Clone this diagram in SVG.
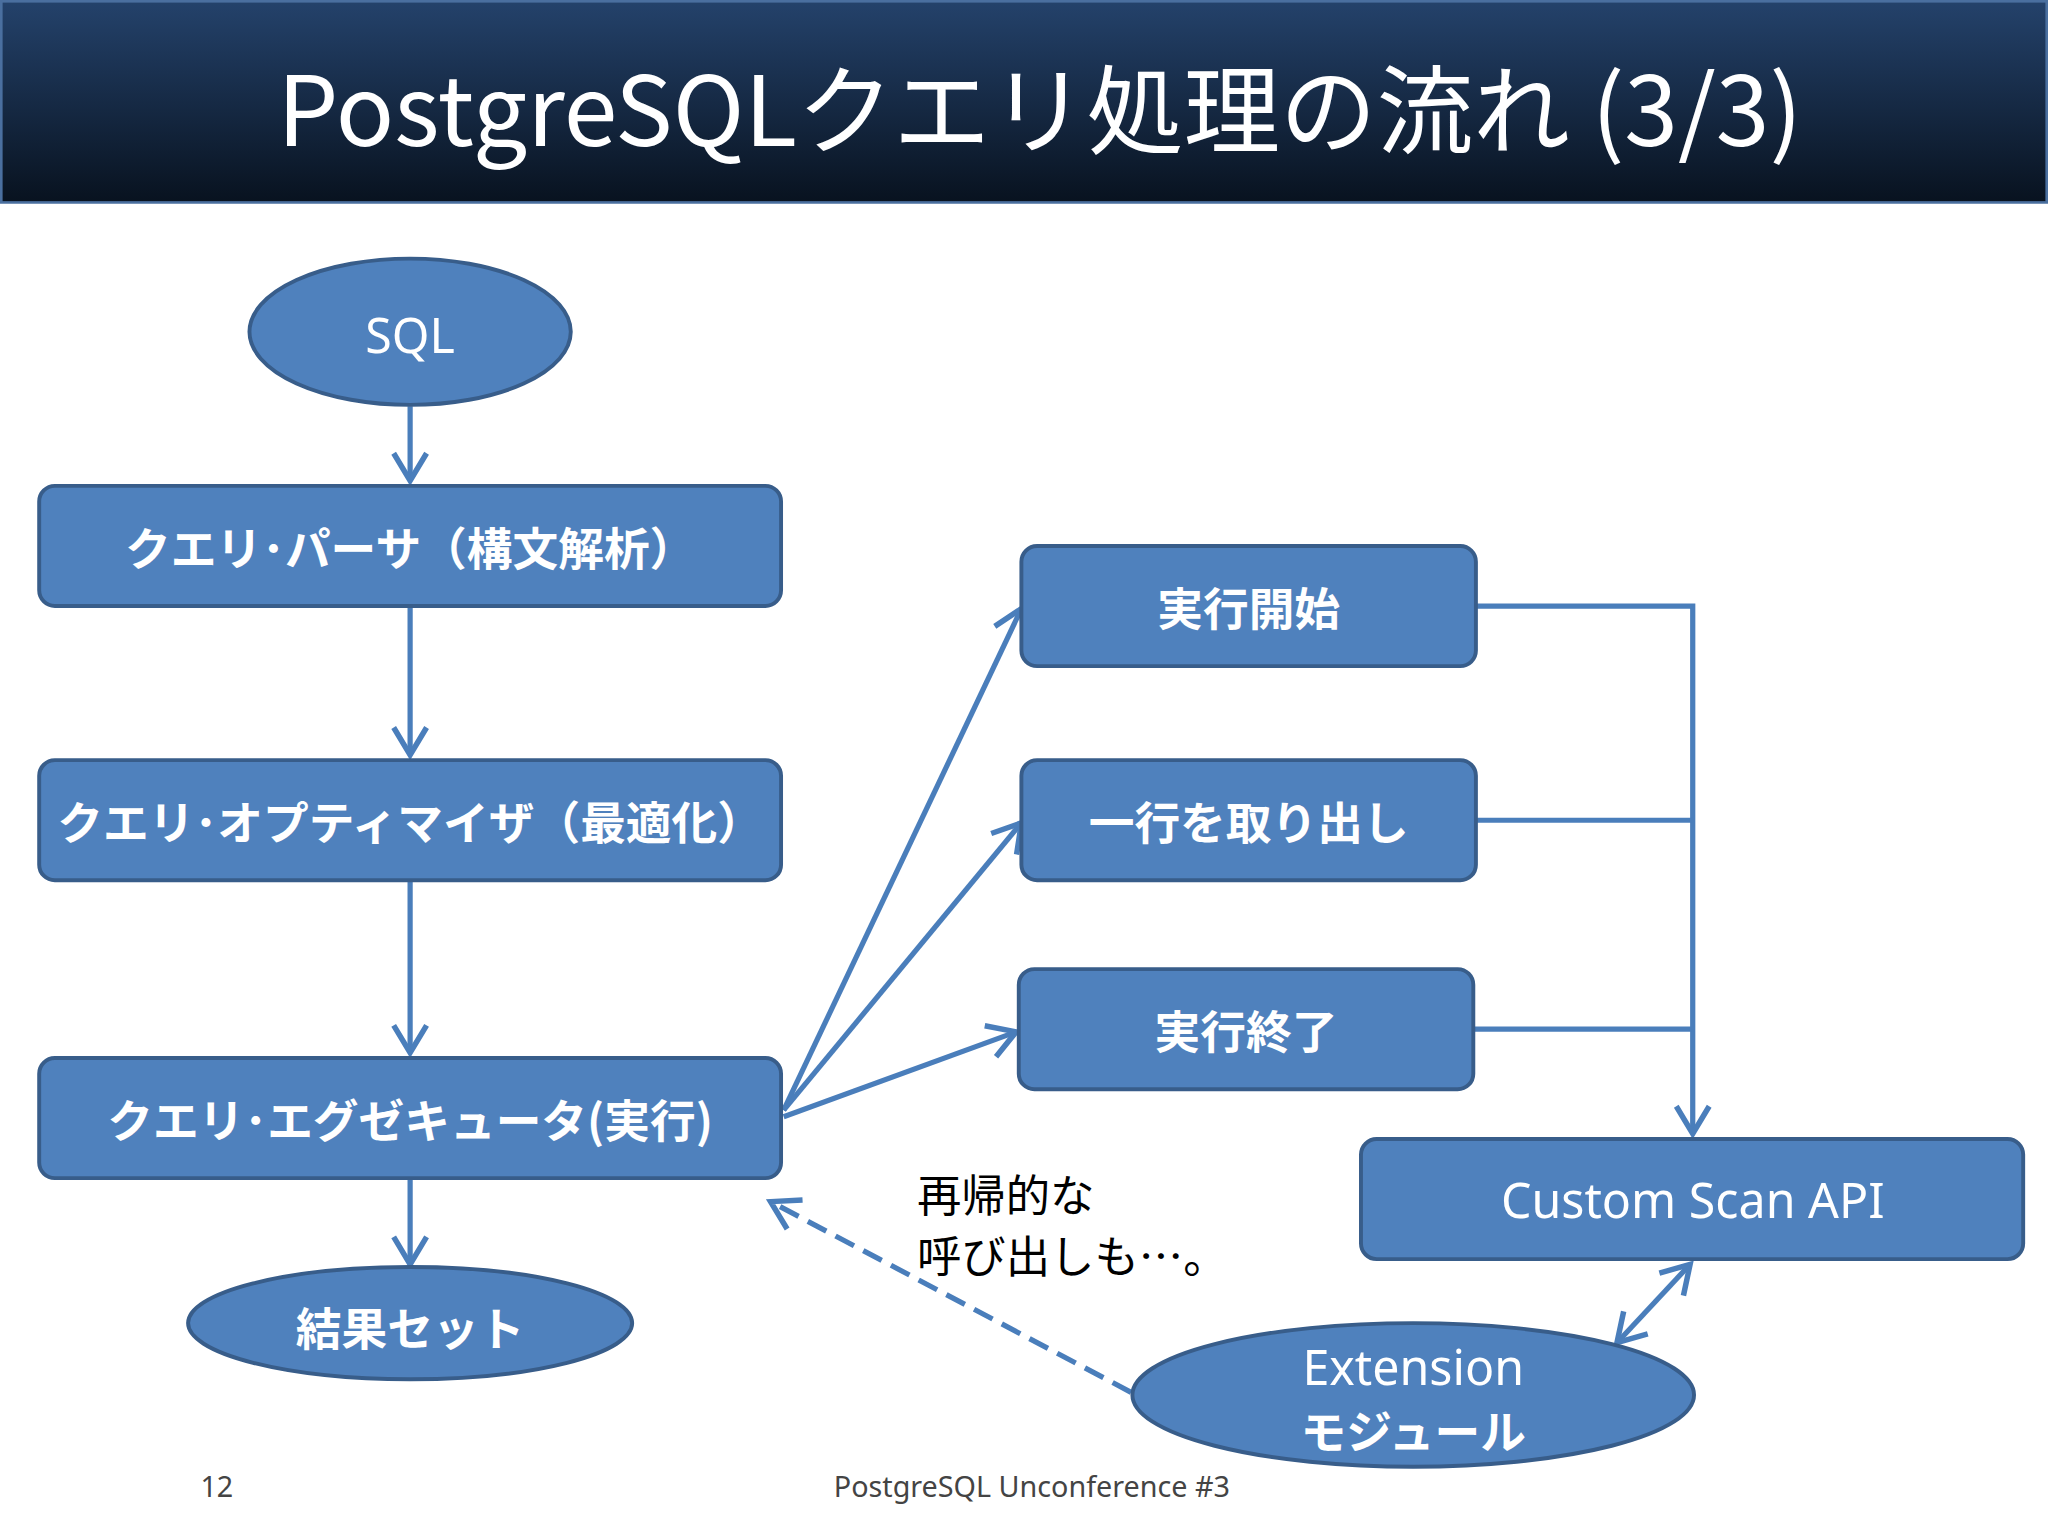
<svg xmlns="http://www.w3.org/2000/svg" width="2048" height="1536" viewBox="0 0 2048 1536">
<style>
.n{fill:#4f81bd;stroke:#385d8a;stroke-width:3}
.t{fill:#fff;font-family:"Noto Sans CJK JP","Noto Sans",sans-serif;font-weight:bold;font-size:35px;text-anchor:middle;dominant-baseline:central}
.tl{fill:#fff;font-family:"Noto Sans","Noto Sans CJK JP",sans-serif;font-size:37px;text-anchor:middle;dominant-baseline:central}
.c{stroke:#4a7ebb;stroke-width:4;fill:none}
</style>
<defs>
<linearGradient id="g" x1="0" y1="0" x2="0" y2="1"><stop offset="0" stop-color="#24426b"/><stop offset="1" stop-color="#08121f"/></linearGradient>
<marker id="a" viewBox="0 0 20 20" refX="18" refY="10" markerWidth="28" markerHeight="28" markerUnits="userSpaceOnUse" orient="auto-start-reverse" style="overflow:visible"><path d="M3,1 L18,10 L3,19" fill="none" stroke="#4a7ebb" stroke-width="3"/></marker>
</defs>
<rect width="2048" height="1536" fill="#fff"/>
<g transform="scale(1.30612)">
<rect x="1" y="1" width="1566" height="154" fill="url(#g)" stroke="#4a6f9f" stroke-width="2"/>
<text x="796" y="80" fill="#fff" font-family="'Noto Sans CJK JP','Noto Sans',sans-serif" font-size="74" text-anchor="middle" dominant-baseline="central">PostgreSQLクエリ処理の流れ (3/3)</text>
<g id="connectors">
<line class="c" x1="314" y1="311" x2="314" y2="368" marker-end="url(#a)"/>
<line class="c" x1="314" y1="465" x2="314" y2="578" marker-end="url(#a)"/>
<line class="c" x1="314" y1="675" x2="314" y2="806" marker-end="url(#a)"/>
<line class="c" x1="314" y1="903" x2="314" y2="968" marker-end="url(#a)"/>
<line class="c" x1="600" y1="850" x2="782" y2="466" marker-end="url(#a)"/>
<line class="c" x1="600" y1="850" x2="782" y2="630" marker-end="url(#a)"/>
<line class="c" x1="600" y1="855" x2="778" y2="790" marker-end="url(#a)"/>
<polyline class="c" points="1130,464 1296,464 1296,868" marker-end="url(#a)"/>
<line class="c" x1="1130" y1="628" x2="1296" y2="628"/>
<line class="c" x1="1128" y1="788" x2="1296" y2="788"/>
<line class="c" x1="1238" y1="1028" x2="1294" y2="968" marker-start="url(#a)" marker-end="url(#a)"/>
<line class="c" x1="866" y1="1066" x2="590" y2="920" stroke-dasharray="16,8" marker-end="url(#a)"/>
</g>
<g id="sql"><ellipse class="n" cx="314" cy="254" rx="123" ry="56"/><text class="tl" x="314" y="256">SQL</text></g>
<g id="parser"><rect class="n" x="30" y="372" width="568" height="92" rx="12"/><text class="t" x="314" y="418">クエリ･パーサ（構文解析）</text></g>
<g id="optimizer"><rect class="n" x="30" y="582" width="568" height="92" rx="12"/><text class="t" x="314" y="628" font-size="34">クエリ･オプティマイザ（最適化）</text></g>
<g id="executor"><rect class="n" x="30" y="810" width="568" height="92" rx="12"/><text class="t" x="314" y="856">クエリ･エグゼキュータ(実行)</text></g>
<g id="result"><ellipse class="n" cx="314" cy="1013" rx="170" ry="43"/><text class="t" x="314" y="1015" font-size="42">結果セット</text></g>
<g id="start"><rect class="n" x="782" y="418" width="348" height="92" rx="12"/><text class="t" x="956" y="464">実行開始</text></g>
<g id="fetch"><rect class="n" x="782" y="582" width="348" height="92" rx="12"/><text class="t" x="956" y="628">一行を取り出し</text></g>
<g id="end"><rect class="n" x="780" y="742" width="348" height="92" rx="12"/><text class="t" x="954" y="788">実行終了</text></g>
<g id="customscan"><rect class="n" x="1042" y="872" width="507" height="92" rx="12"/><text class="tl" x="1296" y="918">Custom Scan API</text></g>
<g id="extension"><ellipse class="n" cx="1082" cy="1068" rx="215" ry="55"/><text class="tl" x="1082" y="1046" font-size="36">Extension</text><text class="t" x="1082" y="1094" font-size="36">モジュール</text></g>
<g font-family="'Noto Sans CJK JP',sans-serif" font-size="34" fill="#000"><text x="702" y="928">再帰的な</text><text x="702" y="975">呼び出しも…。</text></g>
<g font-family="'Noto Sans',sans-serif" font-size="22" fill="#444"><text x="166" y="1146" text-anchor="middle">12</text><text x="790" y="1146" text-anchor="middle">PostgreSQL Unconference #3</text></g>
</g>
</svg>
